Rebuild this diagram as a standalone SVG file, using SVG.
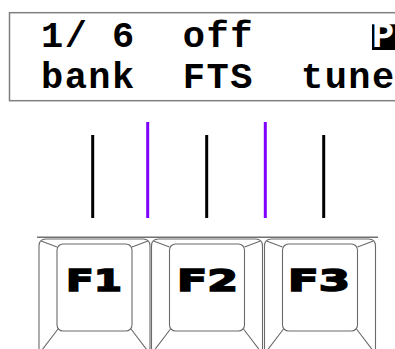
<svg xmlns="http://www.w3.org/2000/svg" width="395" height="349" viewBox="0 0 395 349">
<style>
.lcd{font-family:"Liberation Mono","DejaVu Sans Mono",monospace;font-weight:bold;font-size:37px;letter-spacing:1.44px;fill:#000}
.key{fill:#fff;stroke:#6a6a6a;stroke-width:1.1}
.kl{font-family:"DejaVu Sans","Liberation Sans",sans-serif;font-weight:900;font-size:30px;fill:#000;stroke:#000;stroke-width:1.6;stroke-linejoin:miter}
.blk{stroke:#000;stroke-width:3}
.pur{stroke:#8000ff;stroke-width:3}
</style>
<defs>
<g id="keyshape">
<path class="key" d="M0,352 V246 Q0,239 7,239 H104 Q111,239 111,246 V352"/>
<rect class="key" x="18" y="244" width="75" height="87" rx="6"/>
<path class="key" fill="none" d="M2,241 L18,247 M109,241 L93,247 M19,329 L3,350 M92,329 L108,350"/>
</g>
</defs>
<rect width="395" height="349" fill="#fff"/>
<g id="display">
<rect x="9.5" y="12.7" width="400" height="88" fill="#fff" stroke="#808080" stroke-width="1.5"/>
<text class="lcd" x="41" y="47" xml:space="preserve">1/ 6  off</text>
<rect x="372" y="24.3" width="24" height="25.7" fill="#000"/>
<text class="lcd" x="372" y="47" style="fill:#fff">P</text>
<text class="lcd" x="41" y="88" xml:space="preserve">bank  FTS  tune</text>
</g>
<g id="connectors">
<line class="blk" x1="92.7" y1="135" x2="92.7" y2="218"/>
<line class="pur" x1="147.7" y1="122" x2="147.7" y2="218"/>
<line class="blk" x1="206.7" y1="135" x2="206.7" y2="218"/>
<line class="pur" x1="265.3" y1="122" x2="265.3" y2="218"/>
<line class="blk" x1="323.7" y1="135" x2="323.7" y2="218"/>
</g>
<line x1="37" y1="237.2" x2="378" y2="237.2" stroke="#707070" stroke-width="1.4"/>
<g id="key-f1">
<use href="#keyshape" transform="translate(39,0)"/>
<text class="kl" x="66" y="291" textLength="56" lengthAdjust="spacingAndGlyphs">F1</text>
</g>
<g id="key-f2">
<use href="#keyshape" transform="translate(151.5,0)"/>
<text class="kl" x="177" y="291" textLength="61" lengthAdjust="spacingAndGlyphs">F2</text>
</g>
<g id="key-f3">
<use href="#keyshape" transform="translate(264.5,0)"/>
<text class="kl" x="288" y="291" textLength="62" lengthAdjust="spacingAndGlyphs">F3</text>
</g>
</svg>
